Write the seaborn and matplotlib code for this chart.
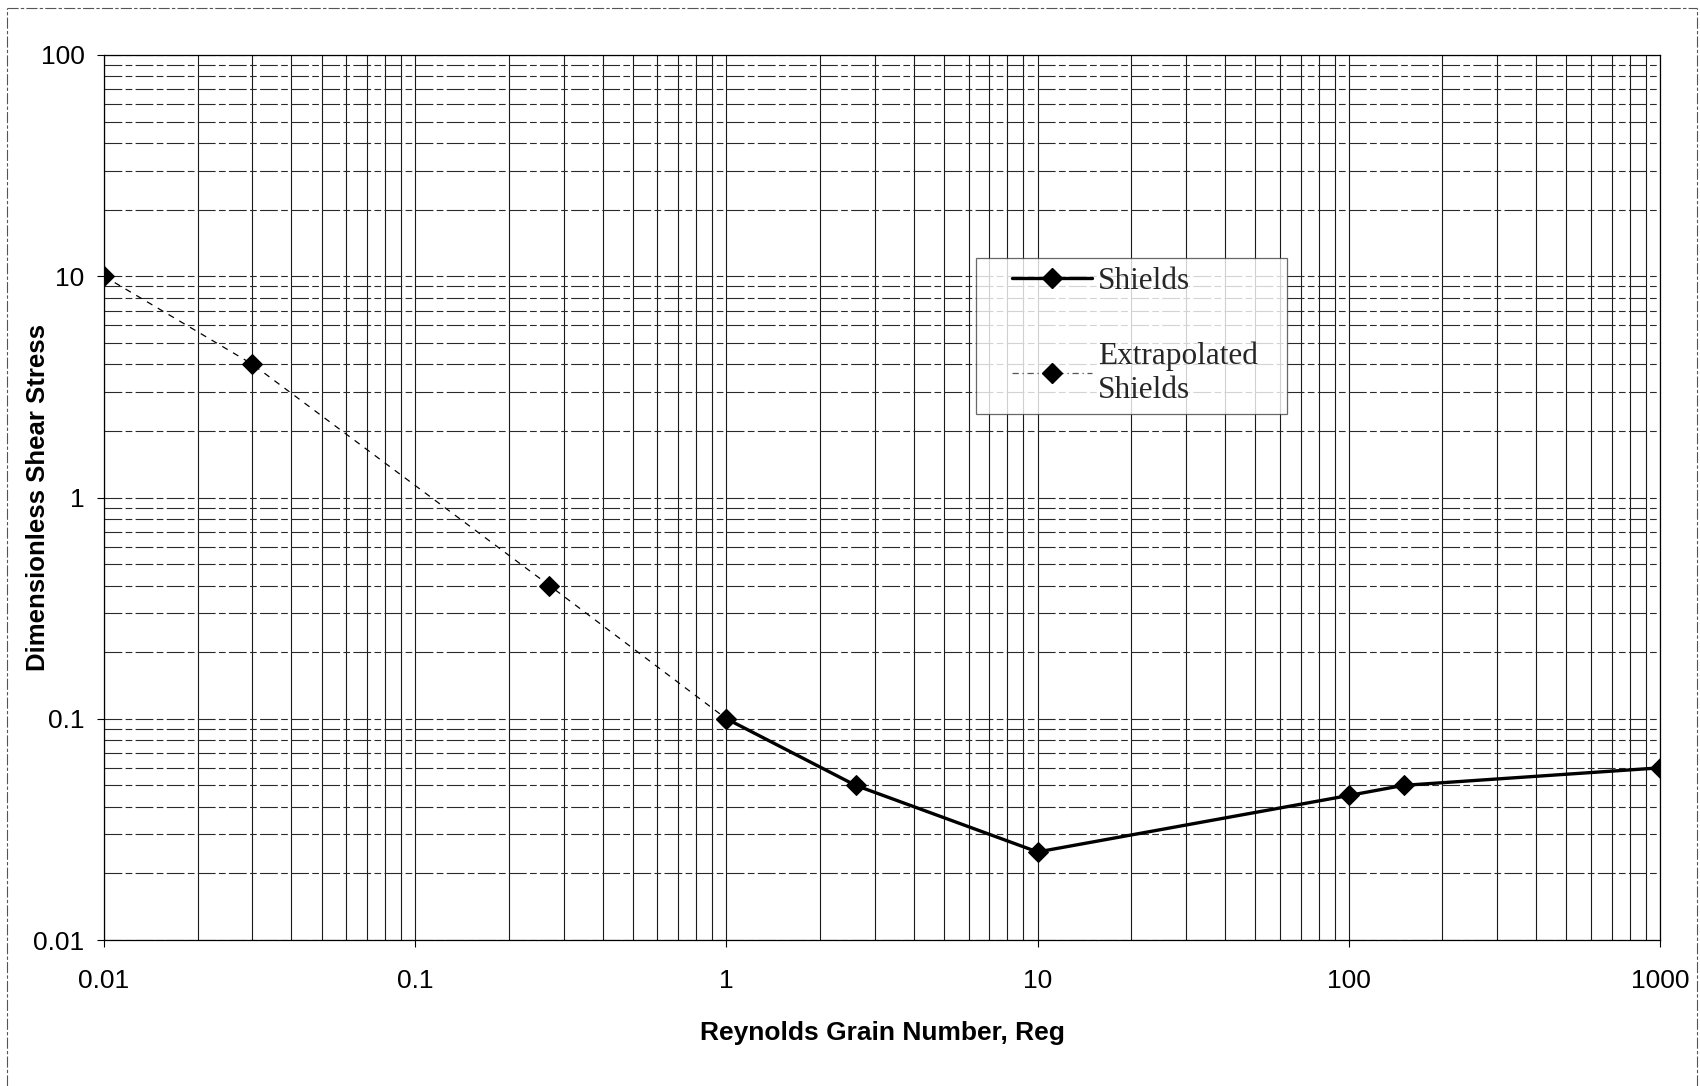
import numpy as np
import matplotlib
matplotlib.use("Agg")
import matplotlib.pyplot as plt
from matplotlib.ticker import LogLocator, FixedLocator, FuncFormatter, NullFormatter
from matplotlib.lines import Line2D
from matplotlib.legend_handler import HandlerLine2D
import seaborn as sns

# Shields curve and its extrapolation to low grain Reynolds numbers
shields_re = [1.0, 2.6, 10.0, 100.0, 150.0, 1000.0]
shields_tau = [0.1, 0.05, 0.025, 0.045, 0.05, 0.06]
extrap_re = [0.01, 0.03, 0.27, 1.0]
extrap_tau = [10.0, 4.0, 0.4, 0.1]

x_ticks = [0.01, 0.1, 1, 10, 100, 1000]
y_ticks = [0.01, 0.1, 1, 10, 100]

sns.set_theme(style="white")
plt.rcParams["font.family"] = ["Liberation Sans", "DejaVu Sans"]

fig = plt.figure(figsize=(17, 10.86), dpi=100)
ax = fig.add_axes([104 / 1700, 1 - 940 / 1086, (1660 - 104) / 1700, (940 - 55) / 1086])

sns.lineplot(x=extrap_re, y=extrap_tau, ax=ax, estimator=None, sort=False,
             color="black", lw=0.9, linestyle=(0, (5, 5)),
             marker="D", markersize=10, markeredgecolor="black", zorder=4)
sns.lineplot(x=shields_re, y=shields_tau, ax=ax, estimator=None, sort=False,
             color="black", lw=2.4, linestyle="-",
             marker="D", markersize=10, markeredgecolor="black", zorder=5)

ax.set_xscale("log")
ax.set_yscale("log")
ax.set_xlim(0.01, 1000)
ax.set_ylim(0.01, 100)

ax.xaxis.set_major_locator(FixedLocator(x_ticks))
ax.yaxis.set_major_locator(FixedLocator(y_ticks))
ax.xaxis.set_minor_locator(LogLocator(base=10, subs=np.arange(2, 10)))
ax.yaxis.set_minor_locator(LogLocator(base=10, subs=np.arange(2, 10)))
fmt = FuncFormatter(lambda v, p: f"{v:g}")
ax.xaxis.set_major_formatter(fmt)
ax.yaxis.set_major_formatter(fmt)
ax.xaxis.set_minor_formatter(NullFormatter())
ax.yaxis.set_minor_formatter(NullFormatter())

ax.tick_params(axis="both", which="major", direction="out", length=5, width=0.8,
               color="black", labelsize=19, labelcolor="black", pad=9,
               bottom=True, left=True)
ax.tick_params(axis="x", which="major", pad=16)
ax.tick_params(axis="both", which="minor", length=0)

ax.grid(which="both", axis="x", color="#1a1a1a", lw=0.8)
ax.grid(which="both", axis="y", color="#2a2a2a", lw=0.8, linestyle=(0, (16, 3, 6, 3)))
ax.set_axisbelow(True)

for s in ax.spines.values():
    s.set_color("black")
    s.set_linewidth(0.9)

ax.set_xlabel("Reynolds Grain Number, Reg", fontsize=19, fontweight="bold", color="black")
ax.set_ylabel("Dimensionless Shear Stress", fontsize=18.5, fontweight="bold", color="black")
ax.xaxis.set_label_coords(0.5, -(1033 - 940) / 885)
ax.xaxis.label.set_va("center")
ax.yaxis.set_label_coords((38 - 104) / 1556, 0.5)
ax.yaxis.label.set_va("center")

# legend box spanning a fixed width
h_sh = Line2D([], [], color="black", lw=2.4, marker="D", markersize=10)
h_ex = Line2D([], [], color="#555555", lw=0.9, linestyle=(0, (5, 3, 1, 3)),
              marker="D", markersize=10, markerfacecolor="black", markeredgecolor="black")
leg = fig.legend([h_sh, h_ex], ["Shields", "Extrapolated\nShields"],
                 loc="upper left",
                 bbox_to_anchor=(976 / 1700, 1 - 413 / 1086,
                                 (1287 - 976) / 1700, (413 - 258) / 1086),
                 mode="expand", borderaxespad=0,
                 prop={"family": ["Liberation Serif"], "size": 22.5},
                 frameon=True, fancybox=False, edgecolor="#444444",
                 borderpad=0.3, handlelength=3.4, handletextpad=0.2,
                 labelspacing=1.45, numpoints=1,
                 handler_map={Line2D: HandlerLine2D(xpad=0.85)})
leg.get_frame().set_linewidth(0.9)
for t in leg.get_texts():
    t.set_linespacing(1.2)

# outer chart border
for xs, ys in [([7 / 1700, 7 / 1700], [0, 1 - 8 / 1086]),
               ([7 / 1700, 1697 / 1700], [1 - 8 / 1086, 1 - 8 / 1086]),
               ([1697 / 1700, 1697 / 1700], [0, 1 - 8 / 1086])]:
    fig.add_artist(Line2D(xs, ys, color="#555555", lw=0.8, linestyle=(0, (10, 2, 3, 2))))

fig.savefig("out.png", dpi=100, facecolor="white")
